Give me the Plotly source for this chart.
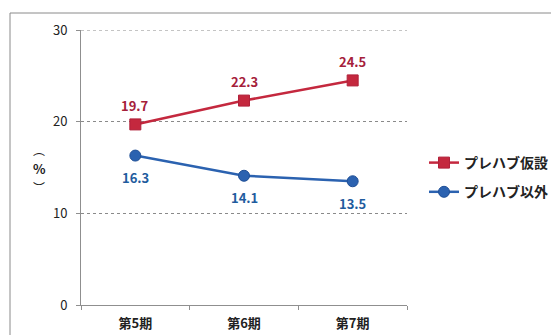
import plotly.graph_objects as go

categories = ["第5期", "第6期", "第7期"]
prefab = [19.7, 22.3, 24.5]
other = [16.3, 14.1, 13.5]
series_names = ["プレハブ仮設", "プレハブ以外"]
y_ticks = [0, 10, 20, 30]

W, H = 551, 335
L, R, T, B = 81, 144, 30, 30
pw, ph = W - L - R, H - T - B

def px_x(x):
    return (x - L) / pw

def px_y(y):
    return 1 - (y - T) / ph

FONT = "Noto Sans CJK JP"
red_line = "#C4283E"
red_text = "#A5203A"
blue_line = "#2B62B0"
blue_text = "#1F5C9E"
grid = "#8a8a8a"

fig = go.Figure()
fig.add_trace(go.Scatter(
    x=categories, y=prefab, name=series_names[0], legendgroup="a",
    mode="lines+markers",
    line=dict(color=red_line, width=2.5),
    marker=dict(symbol="square", size=11, color=red_line,
                line=dict(color="#B0203A", width=1)),
))
fig.add_trace(go.Scatter(
    x=categories, y=other, name=series_names[1], legendgroup="b",
    mode="lines+markers",
    line=dict(color=blue_line, width=2.5),
    marker=dict(symbol="circle", size=11, color=blue_line,
                line=dict(color="#1F4F96", width=1)),
))

annotations = []
for c, v in zip(categories, prefab):
    annotations.append(dict(
        x=c, y=v, xref="x", yref="y", text=f"{v:.1f}", showarrow=False,
        yshift=19, xanchor="center", yanchor="middle",
        font=dict(family=FONT, size=13, color=red_text, weight="bold")))
for c, v in zip(categories, other):
    annotations.append(dict(
        x=c, y=v, xref="x", yref="y", text=f"{v:.1f}", showarrow=False,
        yshift=-22, xanchor="center", yanchor="middle",
        font=dict(family=FONT, size=13, color=blue_text, weight="bold")))

annotations += [
    dict(x=px_x(39), y=px_y(149), xref="paper", yref="paper",
         text="︵", showarrow=False,
         font=dict(family=FONT, size=12, color="#222222"),
         xanchor="center", yanchor="middle"),
    dict(x=px_x(39), y=px_y(168), xref="paper", yref="paper",
         text="%", showarrow=False,
         font=dict(family=FONT, size=13, color="#222222", weight="bold"),
         xanchor="center", yanchor="middle"),
    dict(x=px_x(39), y=px_y(187), xref="paper", yref="paper",
         text="︶", showarrow=False,
         font=dict(family=FONT, size=12, color="#222222"),
         xanchor="center", yanchor="middle"),
]

fig.update_layout(
    width=W, height=H,
    margin=dict(l=L, r=R, t=T, b=B, pad=0, autoexpand=False),
    paper_bgcolor="white", plot_bgcolor="white",
    font=dict(family=FONT, color="#222222"),
    showlegend=True,
    legend=dict(
        xref="container", yref="container",
        x=424 / W, y=1 - 147 / H, xanchor="left", yanchor="top",
        font=dict(family=FONT, size=14, color="#222222", weight="bold"),
        traceorder="grouped", tracegroupgap=8,
        bgcolor="rgba(0,0,0,0)", itemwidth=30,
    ),
    xaxis=dict(
        type="category", range=[-0.5, 2.5], automargin=False,
        showgrid=False, showline=True, linecolor="#8f8f8f", linewidth=1,
        ticks="outside", ticklen=4, tickcolor="#8f8f8f", tickson="boundaries",
        tickfont=dict(family=FONT, size=13, color="#222222", weight="bold"),
        zeroline=False, fixedrange=True, ticklabelstandoff=6,
    ),
    yaxis=dict(
        range=[0, 30], tickvals=y_ticks, ticktext=[str(v) for v in y_ticks],
        automargin=False,
        showgrid=True, gridcolor=grid, griddash="dot", gridwidth=1,
        showline=True, linecolor="#8f8f8f", linewidth=1,
        ticks="outside", ticklen=4, tickcolor="#8f8f8f",
        tickfont=dict(family=FONT, size=13, color="#222222"),
        zeroline=False, fixedrange=True, ticklabelstandoff=6,
    ),
    annotations=annotations,
    shapes=[
        dict(type="line", xref="paper", yref="y",
             x0=0, x1=1, y0=y_ticks[-1], y1=y_ticks[-1],
             line=dict(color=grid, width=1, dash="dot")),
        dict(type="line", xref="paper", yref="paper",
             x0=px_x(10), x1=px_x(560), y0=px_y(13), y1=px_y(13),
             line=dict(color="#8a8a8a", width=1)),
        dict(type="line", xref="paper", yref="paper",
             x0=px_x(10), x1=px_x(10), y0=px_y(13), y1=px_y(345),
             line=dict(color="#8a8a8a", width=1)),
    ],
)

fig.write_html("out.html")
